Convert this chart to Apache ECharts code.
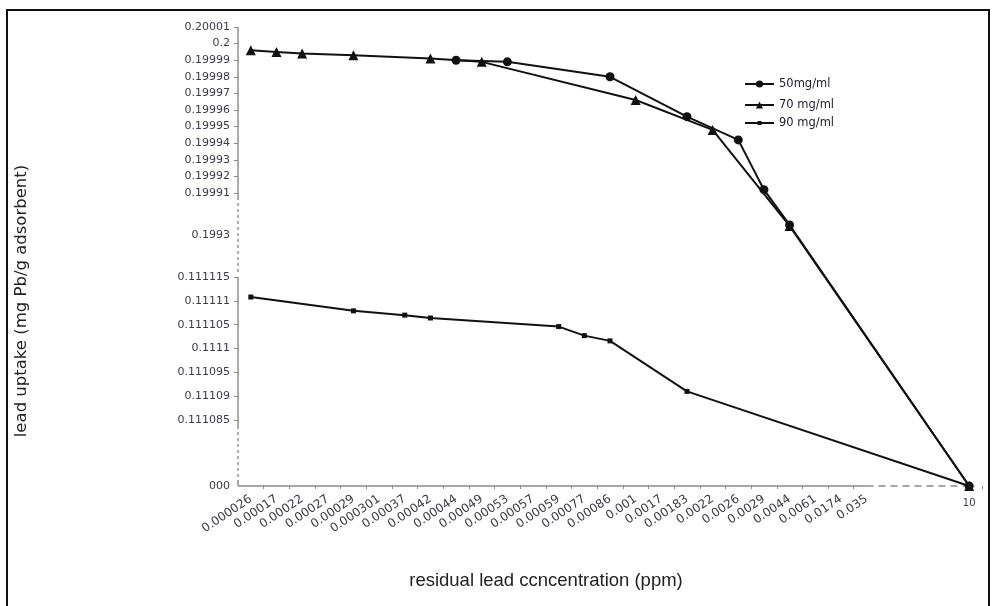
<!DOCTYPE html>
<html lang="en">
<head>
<meta charset="UTF-8">
<title>lead uptake</title>
<style>
  html, body { margin: 0; padding: 0; background: #fff; }
  #main { width: 992px; height: 606px; }
</style>
</head>
<body>
<div id="main"></div>
<script src="https://cdn.jsdelivr.net/npm/echarts@6/dist/echarts.min.js"></script>
<script>
// residual lead concentration (ppm) categories; axis is broken before "10"
var xLabels = ['0.000026', '0.00017', '0.00022', '0.00027', '0.00029', '0.000301', '0.00037',
    '0.00042', '0.00044', '0.00049', '0.00053', '0.00057', '0.00059', '0.00077', '0.00086',
    '0.001', '0.0017', '0.00183', '0.0022', '0.0026', '0.0029', '0.0044', '0.0061', '0.0174', '0.035'];
var xLast = '10';
var xGaps = ['gap1', 'gap2', 'gap3'];

// y tick labels as printed on the broken axis
var yTickLabels = ['0.20001', '0.2', '0.19999', '0.19998', '0.19997', '0.19996', '0.19995', '0.19994',
    '0.19993', '0.19992', '0.19991', '0.1993', '0.111115', '0.11111', '0.111105', '0.1111',
    '0.111095', '0.11109', '0.111085', '000'];
var yNoTick = ['0.1993', '000'];

// broken y axis: value -> height above the x axis
var yBreakValues = [0, 0.111085, 0.111115, 0.1993, 0.19991, 0.20001];
var yBreakPos = [0, 66, 209, 251, 293, 459];

// series (lead uptake, mg Pb/g adsorbent)
var s50x = ['0.00044', '0.00053', '0.00086', '0.00183', '0.0026', '0.0029', '0.0044', '10'];
var s50y = [0.19999, 0.199989, 0.19998, 0.199956, 0.199942, 0.199912, 0.199446, 0];

var s70x = ['0.000026', '0.00017', '0.00022', '0.00029', '0.00042', '0.00049', '0.001', '0.0022', '0.0044', '10'];
var s70y = [0.199996, 0.199995, 0.199994, 0.199993, 0.199991, 0.199989, 0.199966, 0.199948, 0.199432, 0];

var s90x = ['0.000026', '0.00029', '0.00037', '0.00042', '0.00059', '0.00077', '0.00086', '0.00183', '10'];
var s90y = [0.1111108, 0.1111079, 0.111107, 0.1111064, 0.1111046, 0.1111027, 0.1111016, 0.111091, 0];

function toPos(v) {
    for (var i = 0; i < yBreakValues.length - 1; i++) {
        var a = yBreakValues[i], b = yBreakValues[i + 1];
        if (v <= b || i === yBreakValues.length - 2) {
            return yBreakPos[i] + (v - a) / (b - a) * (yBreakPos[i + 1] - yBreakPos[i]);
        }
    }
}

var cats = xLabels.concat(xGaps, [xLast]);
var gridLeft = 238;
var ink = '#111';
var axisGray = '#8a8a8a';
var labelColor = '#3a3a4a';

function pairs(xs, ys) {
    return xs.map(function (x, i) { return [x, toPos(ys[i])]; });
}

var myChart = echarts.init(document.getElementById('main'));

var lineStyle = { color: ink, width: 2 };

var option = {
    animation: false,
    textStyle: { fontFamily: 'DejaVu Sans' },
    grid: {
        left: gridLeft, right: 10, top: 27, bottom: 120,
        containLabel: false, outerBoundsMode: 'none'
    },
    legend: [
        { data: ['50mg/ml'], left: 739, top: 73, itemHeight: 9 },
        { data: ['70 mg/ml'], left: 739, top: 94, itemHeight: 9 },
        { data: ['90 mg/ml'], left: 739, top: 112, itemHeight: 5 }
    ].map(function (l) {
        l.orient = 'vertical';
        l.itemWidth = 29;
        l.textStyle = { fontFamily: 'DejaVu Sans', fontSize: 11.5, color: '#1c1c30' };
        return l;
    }),
    xAxis: [{
        type: 'category',
        data: cats,
        boundaryGap: true,
        axisLine: { show: false },
        axisTick: {
            show: true, length: 3,
            interval: function (i) { return i >= 1 && i < xLabels.length; },
            lineStyle: { color: axisGray }
        },
        axisLabel: {
            interval: 0, rotate: 34, margin: 12,
            fontSize: 12, color: labelColor,
            formatter: function (v) { return xLabels.indexOf(v) >= 0 ? v : ''; }
        }
    }, {
        type: 'category',
        data: cats,
        position: 'bottom',
        boundaryGap: true,
        axisLine: { show: false },
        axisTick: { show: false },
        axisLabel: {
            interval: 0, margin: 12, fontSize: 10, color: labelColor,
            formatter: function (v) { return v === xLast ? v : ''; }
        }
    }],
    yAxis: {
        type: 'value',
        min: 0,
        max: 459,
        axisLine: { show: false },
        splitLine: { show: false },
        axisTick: {
            show: true, length: 4,
            customValues: yTickLabels.filter(function (l) { return yNoTick.indexOf(l) < 0; })
                .map(function (l) { return toPos(parseFloat(l)); }),
            lineStyle: { color: axisGray }
        },
        axisLabel: {
            fontSize: 11, color: labelColor, margin: 8,
            customValues: yTickLabels.map(function (l) { return toPos(parseFloat(l)); }),
            formatter: function (val) {
                for (var i = 0; i < yTickLabels.length; i++) {
                    if (Math.abs(toPos(parseFloat(yTickLabels[i])) - val) < 0.01) return yTickLabels[i];
                }
                return '';
            }
        }
    },
    series: [{
        name: '50mg/ml', type: 'line',
        data: pairs(s50x, s50y),
        symbol: 'circle', symbolSize: 9,
        lineStyle: lineStyle, itemStyle: { color: ink }, z: 3
    }, {
        name: '70 mg/ml', type: 'line',
        data: pairs(s70x, s70y),
        symbol: 'triangle', symbolSize: 10,
        lineStyle: lineStyle, itemStyle: { color: ink }, z: 2
    }, {
        name: '90 mg/ml', type: 'line',
        data: pairs(s90x, s90y),
        symbol: 'rect', symbolSize: 5,
        lineStyle: lineStyle, itemStyle: { color: ink }, z: 2
    }]
};
myChart.setOption(option);

// broken axis lines, drawn at positions taken from the chart's own scales
function yPix(v) { return myChart.convertToPixel({ yAxisIndex: 0 }, toPos(v)); }
function xPix(c) { return myChart.convertToPixel({ xAxisIndex: 0 }, cats.indexOf(c)); }

function seg(x1, y1, x2, y2, dash) {
    return {
        type: 'line', silent: true, z: 1,
        shape: { x1: x1, y1: y1, x2: x2, y2: y2 },
        style: { stroke: axisGray, lineWidth: 1.4, lineDash: dash || null }
    };
}

var y0 = yPix(0);
var graphics = [
    seg(gridLeft, yPix(0.20001), gridLeft, yPix(0.19991) + 4),
    seg(gridLeft, yPix(0.19991) + 4, gridLeft, yPix(0.111115) - 5, [3, 3]),
    seg(gridLeft, yPix(0.111115), gridLeft, yPix(0.111085) + 6),
    seg(gridLeft, yPix(0.111085) + 6, gridLeft, y0 - 6, [3, 3]),
    seg(gridLeft, y0 - 6, gridLeft, y0),
    seg(gridLeft, y0, xPix('0.035'), y0),
    seg(xPix('0.035'), y0, xPix(xLast) + 6, y0, [7, 5]),
    {
        type: 'text', x: 22, y: 301, rotation: Math.PI / 2,
        style: {
            text: 'lead uptake (mg Pb/g adsorbent)', align: 'center', verticalAlign: 'middle',
            font: '16.5px "DejaVu Sans"', fill: '#222'
        }
    },
    {
        type: 'text', x: 546, y: 581,
        style: {
            text: 'residual lead ccncentration (ppm)', align: 'center', verticalAlign: 'middle',
            font: '18.5px "Liberation Sans"', fill: '#222'
        }
    },
    {
        type: 'rect', silent: true,
        shape: { x: 7, y: 10, width: 982, height: 700 },
        style: { fill: 'none', stroke: ink, lineWidth: 2 }
    }
];
myChart.setOption({ graphic: graphics });
</script>
</body>
</html>
